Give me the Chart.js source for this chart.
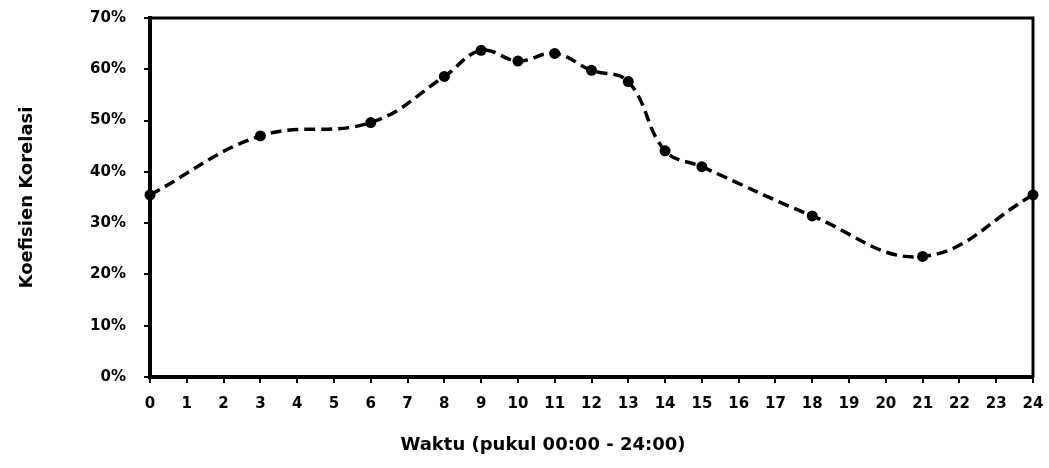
<!DOCTYPE html>
<html>
<head>
<meta charset="utf-8">
<script src="https://cdn.jsdelivr.net/npm/chart.js@4/dist/chart.umd.min.js"></script>
<style>
	body { margin: 0; background: #fff; }
	canvas { display: block; }
</style>
</head>
<body>
<canvas id="myChart" width="1049" height="468"></canvas>
<script>
// jam pengamatan dan koefisien korelasi (%)
var jam = [0, 3, 6, 8, 9, 10, 11, 12, 13, 14, 15, 18, 21, 24];
var koefisien = [35.5, 47, 49.6, 58.6, 63.7, 61.6, 63.1, 59.8, 57.6, 44.1, 41, 31.4, 23.5, 35.5];
var judulX = 'Waktu (pukul 00:00 - 24:00)';
var judulY = 'Koefisien Korelasi';

var buatTitik = function(){
	var titik = [];
	for (var i = 0; i < jam.length; i++){
		titik.push({x: jam[i], y: koefisien[i]});
	}
	return titik;
}

// garis tepi atas dan kanan, plus judul sumbu x (agak ke kiri seperti aslinya)
var bingkai = {
	id: 'bingkai',
	afterDatasetsDraw: function(chart){
		var a = chart.chartArea;
		var ctx = chart.ctx;
		ctx.save();
		ctx.strokeStyle = '#000';
		ctx.lineWidth = 3;
		ctx.beginPath();
		ctx.moveTo(a.left, a.top);
		ctx.lineTo(a.right, a.top);
		ctx.lineTo(a.right, a.bottom);
		ctx.stroke();
		ctx.fillStyle = '#000';
		ctx.font = 'bold 18px "DejaVu Sans"';
		ctx.textAlign = 'center';
		ctx.textBaseline = 'middle';
		ctx.fillText(judulX, a.left + (a.right - a.left) * 0.445, chart.height - 23);
		ctx.restore();
	}
}

var ctx = document.getElementById('myChart').getContext('2d');
var chart = new Chart(ctx, {
	type: 'line',
	data: {
		datasets: [{
			data: buatTitik(),
			borderColor: '#000',
			backgroundColor: '#000',
			borderWidth: 3.5,
			borderDash: [11, 6],
			tension: 0.4,
			pointRadius: 5.5,
			pointBorderWidth: 0,
			clip: false
		}]
	},
	options: {
		responsive: false,
		animation: false,
		layout: { padding: { top: 18, right: 16, left: 0, bottom: 0 } },
		plugins: { legend: { display: false }, tooltip: { enabled: false } },
		scales: {
			x: {
				type: 'linear',
				min: 0,
				max: 24,
				afterFit: function(scale){
					scale.height = 91;
					scale.paddingLeft = 0;
					scale.paddingRight = 0;
				},
				ticks: {
					stepSize: 1,
					color: '#000',
					padding: 12,
					maxRotation: 0,
					autoSkip: false,
					font: { family: 'DejaVu Sans', size: 15, weight: 'bold' }
				},
				grid: { drawOnChartArea: false, color: '#000', lineWidth: 2, tickLength: 6 },
				border: { color: '#000', width: 4 }
			},
			y: {
				min: 0,
				max: 70,
				afterFit: function(scale){
					scale.width = 150;
					scale.paddingTop = 0;
					scale.paddingBottom = 0;
				},
				ticks: {
					stepSize: 10,
					color: '#000',
					padding: 18,
					callback: function(v){ return v + '%'; },
					font: { family: 'DejaVu Sans', size: 15, weight: 'bold' }
				},
				grid: { drawOnChartArea: false, color: '#000', lineWidth: 2, tickLength: 6 },
				border: { color: '#000', width: 4 },
				title: {
					display: true,
					text: judulY,
					color: '#000',
					padding: { top: 17, bottom: 0 },
					font: { family: 'DejaVu Sans', size: 18, weight: 'bold' }
				}
			}
		}
	},
	plugins: [bingkai]
});
</script>
</body>
</html>
